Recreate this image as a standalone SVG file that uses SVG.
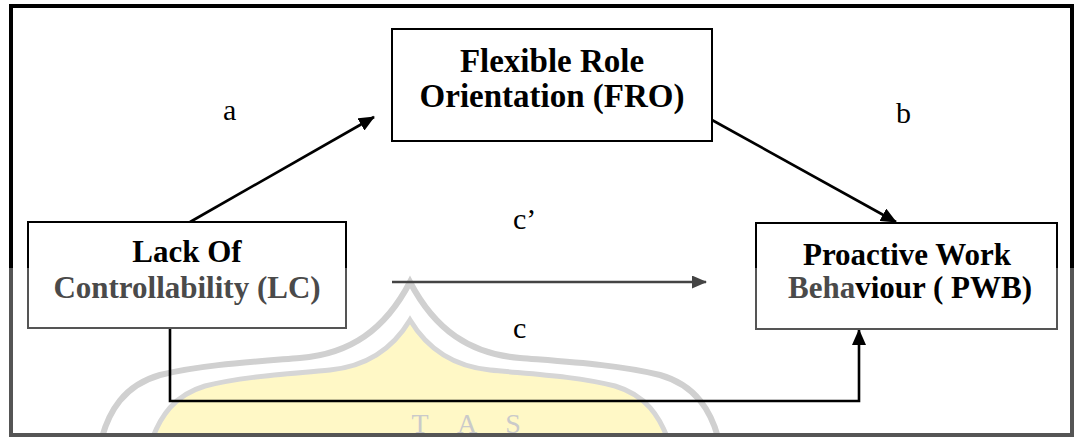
<svg xmlns="http://www.w3.org/2000/svg" width="1080" height="437" viewBox="0 0 1080 437">
<style>
.box{fill:#fff;stroke:url(#lowGray);stroke-width:2}
.lbl{font-family:"Liberation Serif","Times New Roman",serif;font-weight:bold;text-anchor:middle}
.path{font-family:"Liberation Serif","Times New Roman",serif;font-size:30px;fill:#000}
.conn{fill:none;stroke:#000;stroke-width:2.6}
.gray{fill:#4a4a4a}
</style>
<defs>
<linearGradient id="lowGray" gradientUnits="userSpaceOnUse" x1="0" y1="0" x2="0" y2="437">
<stop offset="0" stop-color="#000"/>
<stop offset="0.613" stop-color="#000"/>
<stop offset="0.613" stop-color="#555"/>
<stop offset="1" stop-color="#555"/>
</linearGradient>
<marker id="head" markerUnits="userSpaceOnUse" viewBox="0 0 16 14" refX="15" refY="7" markerWidth="16" markerHeight="14" orient="auto">
<path d="M0,0 L16,7 L0,14 Z" fill="#000"/>
</marker>
<marker id="headGray" markerUnits="userSpaceOnUse" viewBox="0 0 15 13" refX="14" refY="6.5" markerWidth="15" markerHeight="13" orient="auto">
<path d="M0,0 L15,6.5 L0,13 Z" fill="#444"/>
</marker>
</defs>
<rect width="1080" height="437" fill="#fff"/>
<g id="watermark">
<path d="M150,445 C160,415 175,395 205,386 C245,376 290,374 330,370 C370,366 395,345 410,320 C425,345 450,366 490,370 C530,374 575,376 615,386 C645,395 660,415 670,445 Z" fill="#fff8c6" stroke="#d6d6d6" stroke-width="5"/>
<path d="M100,445 C108,410 125,385 160,375 C200,365 250,362 300,358 C350,354 385,330 410,282 C435,330 470,354 520,358 C570,362 620,365 660,375 C695,385 712,410 720,445" fill="none" stroke="#d0d0d0" stroke-width="6"/>
<text x="420 467 513" y="433" font-family="Liberation Serif, serif" font-size="28" fill="#cacaca" text-anchor="middle">TAS</text>
</g>
<rect id="frame" x="11" y="6" width="1061" height="429" fill="none" stroke="url(#lowGray)" stroke-width="4"/>
<g id="connectors">
<line class="conn" x1="190" y1="222" x2="374" y2="117" marker-end="url(#head)"/>
<line class="conn" x1="712" y1="120" x2="896" y2="222" marker-end="url(#head)"/>
<line x1="392" y1="282" x2="706" y2="282" fill="none" stroke="#444" stroke-width="2.6" marker-end="url(#headGray)"/>
<polyline class="conn" points="170,328 170,401 859,401 859,330" marker-end="url(#head)"/>
</g>
<g id="labels">
<text class="path" x="223" y="120">a</text>
<text class="path" x="896" y="123">b</text>
<text class="path" x="513" y="229">c’</text>
<text class="path" x="513" y="338" fill="#444">c</text>
</g>
<g id="node-FRO">
<rect class="box" x="392" y="29" width="320" height="112"/>
<text class="lbl" x="552" y="72" font-size="33">Flexible Role</text>
<text class="lbl" x="552" y="107" font-size="33">Orientation (FRO)</text>
</g>
<g id="node-LC">
<rect class="box" x="28" y="222" width="318" height="106"/>
<text class="lbl" x="187" y="262" font-size="31">Lack Of</text>
<text class="lbl gray" x="187" y="298" font-size="31">Controllability (LC)</text>
</g>
<g id="node-PWB">
<rect class="box" x="756" y="223" width="301" height="106"/>
<text class="lbl" x="907" y="265" font-size="31">Proactive Work</text>
<text class="lbl" x="910" y="298" font-size="31"><tspan class="gray">Beha</tspan>viour ( PWB)</text>
</g>
</svg>
